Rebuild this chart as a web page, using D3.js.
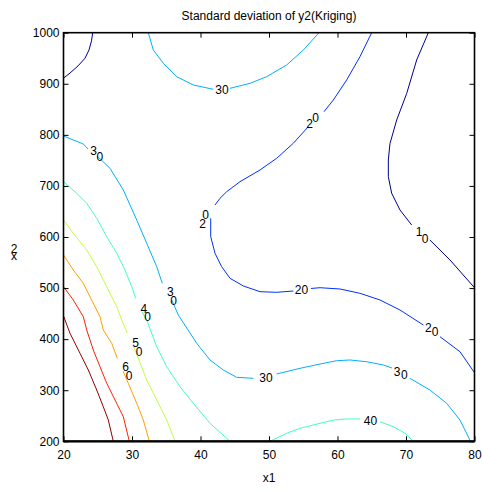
<!DOCTYPE html>
<html>
<head>
<meta charset="utf-8">
<script src="https://cdn.jsdelivr.net/npm/d3@7"></script>
<style>
  html, body { margin: 0; padding: 0; background: #fff; }
  svg { display: block; font-family: "Liberation Sans", Arial, Helvetica, sans-serif; }
</style>
</head>
<body>
<svg id="chart" width="482" height="491"></svg>
<script>
// Contour levels of the kriging standard deviation and their jet colours
const levels = [10, 20, 30, 40, 50, 60, 70, 80];
const levelColors = ["#00008f", "#0030ff", "#00b0ff", "#40ffbf", "#bfff40", "#ffa000", "#ff2000", "#8f0000"];

const xTicks = [20, 30, 40, 50, 60, 70, 80];
const yTicks = [200, 300, 400, 500, 600, 700, 800, 900, 1000];

// Each contour level: list of pieces, each piece a list of [x1, x2] points
const contour10 = [
  [[20, 911], [20.95, 921], [22.12, 935], [23.14, 950], [23.72, 966], [24.09, 984], [24.26, 1000]],
  [[73.26, 1000], [71.56, 946.6], [70.10, 881], [68.64, 829], [67.66, 783], [67.42, 750.8], [67.42, 718],
   [67.91, 685.6], [69.12, 652.9], [70.83, 623.5]],
  [[73.5, 594], [76.42, 555], [80, 500.7]]
];
const contour20 = [
  [[64.99, 1000], [63.28, 953], [61.34, 907.4], [59.39, 868.2], [58.03, 845.3]],
  [[55.74, 816], [53.55, 783.5], [51.12, 754.1], [48.69, 731.2], [45.77, 708.3], [43.82, 688.7],
   [42.85, 675.8], [42.12, 662.7]],
  [[41.49, 636.6], [41.49, 600.6], [42.12, 568.1], [43.09, 541.9], [44.31, 519.1], [46.25, 504.1],
   [48.69, 492.9], [51.12, 491.7], [53.55, 494.3]],
  [[56.13, 499.2], [57.45, 500.7], [60.36, 498.2], [63.28, 489.8], [66.2, 476.7], [69.12, 457.1], [72.53, 427.7]],
  [[74.96, 404.8], [77.88, 375.4], [80, 334.3]]
];
const contour30 = [
  [[32.38, 1000], [33.11, 966.1], [34.57, 940.1], [36.53, 913.9], [38.95, 897.6], [41.87, 889.2]],
  [[44.31, 891.1], [47.23, 900.9], [49.66, 913.9], [52.58, 936.8], [55.01, 966.1], [57.3, 1000]],
  [[20, 797.7], [22.89, 782.1], [23.58, 772.3]],
  [[24.89, 758.6], [26.79, 734.5], [28.73, 692], [30.69, 633.3], [32.15, 587.7], [33.61, 541.9], [34.42, 509.3]],
  [[35.8, 476.7], [36.76, 447.3], [39.45, 391.9], [41.39, 359.2], [43.33, 339.6], [45.28, 325.3], [47.71, 323.3]],
  [[51.12, 331.8], [54.53, 342.9], [57.45, 351.3], [59.88, 357.8], [61.82, 359.2], [64.26, 355.8],
   [66.69, 349.4], [67.96, 343.5]],
  [[70.58, 323.3], [73.5, 300.4], [75.94, 274.4], [77.88, 241.7], [79.42, 200]]
];
const contour40 = [
  [[20, 708.3], [21.93, 685.6], [23.39, 666], [24.85, 636.6], [26.31, 600.6], [27.77, 568.1],
   [28.98, 535.4], [29.96, 502.7], [30.54, 480]],
  [[31.46, 453.2], [32.15, 437.5], [33.61, 385.2], [35.07, 346.1], [37.01, 306.9], [38.95, 274.4],
   [41.39, 235.2], [44.31, 200]],
  [[50.15, 200], [52.58, 215.7], [54.53, 225.5], [57.45, 235.2], [59.39, 241.7], [61.34, 243.7], [63.28, 243.7]],
  [[66.2, 238.4], [68.15, 228.6], [69.85, 215.7], [71.07, 200]]
];
const contour50 = [
  [[20, 633.3], [21.43, 607.2], [23.39, 574.5], [24.85, 541.9], [26.31, 502.7], [27.77, 463.5],
   [28.5, 437.5], [29.31, 411.5]],
  [[30.29, 384.6], [32.15, 320], [33.61, 280.9], [35.07, 241.7], [36.28, 200]]
];
const contour60 = [
  [[20, 564.8], [21.43, 535.4], [22.89, 509.3], [23.87, 483.1], [25.33, 444], [25.81, 417.9],
   [27.04, 391.9], [27.85, 362.5]],
  [[28.69, 337.6], [29.46, 313.6], [30.69, 274.4], [31.65, 241.7], [32.53, 200]]
];
const contour70 = [
  [[20, 502.7], [21.43, 476.7], [22.89, 444], [23.39, 417.9], [24.35, 378.8], [25.33, 346.1],
   [26.31, 313.6], [27.52, 280.9], [28.73, 248.2], [29.61, 200]]
];
const contour80 = [
  [[20, 445.3], [20.95, 411.5], [22.41, 372.3], [23.62, 339.6], [24.85, 300.4], [25.81, 267.7],
   [26.54, 241.7], [27.27, 200]]
];
const contourPieces = [contour10, contour20, contour30, contour40, contour50, contour60, contour70, contour80];

// Inline contour labels: level and the (x1, x2) point they sit on
const labelLevels = [30, 30, 30, 40, 50, 60, 20, 20, 10, 20, 20, 30, 30, 40];
const labelX1 = [43.14, 24.85, 35.84, 32.0, 30.77, 29.31, 40.54, 56.36, 72.36, 73.75, 54.74, 49.56, 69.24, 64.82];
const labelX2 = [889.2, 762.5, 484.1, 452.2, 385.0, 337.0, 635.8, 827.7, 603.9, 418.5, 497.2, 324.9, 333.1, 239.7];

const svg = d3.select("#chart");
const W = 482, H = 491;
const plot = { left: 63.5, right: 474.5, top: 32.7, bottom: 441.3 };

const x = d3.scaleLinear().domain([20, 80]).range([plot.left, plot.right]);
const y = d3.scaleLinear().domain([200, 1000]).range([plot.bottom, plot.top]);

svg.append("rect").attr("width", W).attr("height", H).attr("fill", "#fff");

// Contour lines
const line = d3.line().x(d => x(d[0])).y(d => y(d[1]));
const gLines = svg.append("g").attr("fill", "none").attr("stroke-width", 1);
levels.forEach((lv, i) => {
  contourPieces[i].forEach(piece => {
    gLines.append("path").attr("d", line(piece)).attr("stroke", levelColors[i]);
  });
});

// Direction of the contour at a label: the nearest segment of each piece,
// averaged over the two closest pieces (the label usually sits in the gap between them)
function orient(vx, vy) {
  if (vx < 0 || (vx === 0 && vy > 0)) { vx = -vx; vy = -vy; }
  const n = Math.hypot(vx, vy);
  return [vx / n, vy / n];
}
function localDirection(levelIndex, px, py) {
  const perPiece = contourPieces[levelIndex].map(piece => {
    let best = null, bestD = Infinity;
    for (let k = 0; k < piece.length - 1; k++) {
      const ax = x(piece[k][0]), ay = y(piece[k][1]);
      const bx = x(piece[k + 1][0]), by = y(piece[k + 1][1]);
      const vx = bx - ax, vy = by - ay;
      const len2 = vx * vx + vy * vy;
      let t = len2 ? ((px - ax) * vx + (py - ay) * vy) / len2 : 0;
      t = Math.max(0, Math.min(1, t));
      const d = Math.hypot(px - (ax + t * vx), py - (ay + t * vy));
      if (d < bestD) { bestD = d; best = orient(vx, vy); }
    }
    return { d: bestD, dir: best };
  }).sort((a, b) => a.d - b.d);
  let [dx, dy] = perPiece[0].dir;
  if (perPiece.length > 1 && perPiece[1].d < 25) {
    dx += perPiece[1].dir[0]; dy += perPiece[1].dir[1];
  }
  [dx, dy] = orient(dx, dy);
  // nearly level runs get plain horizontal text
  if (Math.abs(dy) < 0.25) { dx = 1; dy = 0; }
  return [dx, dy];
}

// Labels: digits upright, stepped along the contour direction
const gLabels = svg.append("g").attr("font-size", 12).attr("fill", "#000").attr("text-anchor", "middle");
labelLevels.forEach((lv, i) => {
  const li = levels.indexOf(lv);
  const px = x(labelX1[i]), py = y(labelX2[i]);
  const [ux, uy] = localDirection(li, px, py);
  const chars = String(lv).split("");
  const step = 6.7 + 3 * Math.abs(uy);
  chars.forEach((ch, k) => {
    const off = (k - (chars.length - 1) / 2) * step;
    gLabels.append("text")
      .attr("x", px + ux * off)
      .attr("y", py + uy * off)
      .attr("dy", "0.36em")
      .text(ch);
  });
});

// Axes with inward ticks on all four sides
function styleAxis(g) {
  g.select(".domain").remove();
  g.selectAll(".tick line").attr("stroke", "#000").attr("stroke-width", 1);
  g.selectAll("text").attr("font-size", 12).attr("fill", "#000")
    .attr("font-family", "Liberation Sans, Arial, Helvetica, sans-serif");
  g.attr("font-family", null).attr("font-size", null);
}

const fmt = d3.format("d");
svg.append("g").attr("transform", `translate(0,${plot.bottom})`)
  .call(d3.axisBottom(x).tickValues(xTicks).tickFormat(fmt).tickSizeInner(-5).tickSizeOuter(0).tickPadding(9))
  .call(styleAxis);
svg.append("g").attr("transform", `translate(0,${plot.top})`)
  .call(d3.axisTop(x).tickValues(xTicks).tickSizeInner(-5).tickSizeOuter(0).tickFormat(""))
  .call(styleAxis);
svg.append("g").attr("transform", `translate(${plot.left},0)`)
  .call(d3.axisLeft(y).tickValues(yTicks).tickFormat(fmt).tickSizeInner(-5).tickSizeOuter(0).tickPadding(4))
  .call(styleAxis);
svg.append("g").attr("transform", `translate(${plot.right},0)`)
  .call(d3.axisRight(y).tickValues(yTicks).tickSizeInner(-5).tickSizeOuter(0).tickFormat(""))
  .call(styleAxis);

// Plot frame
svg.append("rect")
  .attr("x", plot.left).attr("y", plot.top)
  .attr("width", plot.right - plot.left).attr("height", plot.bottom - plot.top)
  .attr("fill", "none").attr("stroke", "#000").attr("stroke-width", 1.6);
svg.append("line")
  .attr("x1", plot.left).attr("x2", plot.right)
  .attr("y1", plot.bottom).attr("y2", plot.bottom)
  .attr("stroke", "#000").attr("stroke-width", 2.2);

// Title and axis labels
svg.append("text").attr("x", (plot.left + plot.right) / 2).attr("y", 20)
  .attr("text-anchor", "middle").attr("font-size", 12).text("Standard deviation of y2(Kriging)");
svg.append("text").attr("x", (plot.left + plot.right) / 2).attr("y", 482)
  .attr("text-anchor", "middle").attr("font-size", 12).text("x1");
const yl = svg.append("text").attr("text-anchor", "middle").attr("font-size", 12);
yl.append("tspan").attr("x", 14).attr("y", 260).text("x");
yl.append("tspan").attr("x", 14).attr("y", 252.5).text("2");
</script>
</body>
</html>
